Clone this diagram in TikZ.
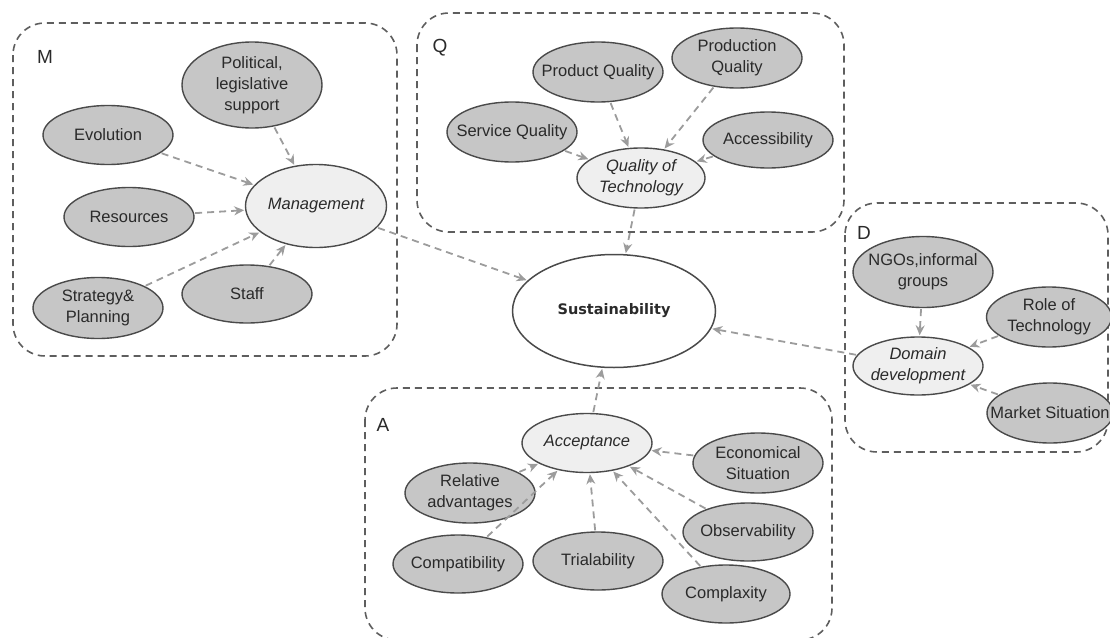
\documentclass[tikz,border=0pt]{standalone}
\usepackage{fontspec}
\setmainfont{Liberation Sans}
\newfontfamily\sustfont{DejaVu Sans}
\usetikzlibrary{shapes.geometric,arrows.meta}
\definecolor{outf}{HTML}{C6C6C6}
\definecolor{inf}{HTML}{EFEFEF}
\definecolor{bordc}{HTML}{4A4A4A}
\definecolor{arrc}{HTML}{9C9C9C}
\definecolor{boxc}{HTML}{5E5E5E}
\definecolor{txtc}{HTML}{2A2A2A}
\newcommand\ftxt{\fontsize{16.5}{21}\selectfont}
\newcommand\flbl{\fontsize{19}{22}\selectfont}
\newcommand\T[1]{\makebox[0pt]{#1}}
\tikzset{
  grp/.style={draw=boxc, line width=1.6pt, dash pattern=on 7pt off 5pt, rounded corners=32pt},
  outer/.style={ellipse, draw=bordc, line width=1.4pt, fill=outf, inner sep=0pt, align=center, font=\ftxt, text=txtc, minimum width=130pt, minimum height=59pt},
  innerell/.style={outer, fill=inf, font=\ftxt\itshape},
  arr/.style={draw=arrc, line width=1.8pt, dash pattern=on 7pt off 5pt, -{Stealth[length=10pt,width=9pt]}, shorten >=1pt, shorten <=1pt},
  lbl/.style={font=\flbl, inner sep=0pt, text=txtc}
}
\begin{document}
\begin{tikzpicture}[x=1pt,y=-1pt]
\useasboundingbox (0,0) rectangle (1110,637);
% group boxes
\draw[grp] (13,23) rectangle (397,356);
\draw[grp] (417,13) rectangle (844,232);
\draw[grp] (845,203) rectangle (1108,452);
\draw[grp] (365,388) rectangle (832,640);
\node[lbl] (lM) at (45,57) {M};
\node[lbl] (lQ) at (440,48) {Q};
\node[lbl] (lD) at (864,233) {D};
\node[lbl] (lA) at (383,425) {A};
% M group
\node[outer, minimum width=140pt, minimum height=86pt] (pol) at (252,85) {\T{Political,}\\\T{legislative}\\\T{support}};
\node[outer] (evo) at (108,135) {\T{Evolution}};
\node[outer] (res) at (129,217) {\T{Resources}};
\node[innerell, minimum width=141pt, minimum height=83pt] (man) at (316,206) {\T{Management}};
\node[outer, minimum height=61pt] (str) at (98,308) {\T{Strategy\&}\\\T{Planning}};
\node[outer, minimum height=58pt] (sta) at (247,294) {\T{Staff}};
% Q group
\node[outer, minimum height=60pt] (prq) at (598,72) {\T{Product Quality}};
\node[outer, minimum height=60pt] (pnq) at (737,58) {\T{Production}\\\T{Quality}};
\node[outer, minimum height=60pt] (svq) at (512,132) {\T{Service Quality}};
\node[outer, minimum height=56pt] (acc) at (768,140) {\T{Accessibility}};
\node[innerell, minimum width=128pt, minimum height=60pt] (qot) at (641,178) {\T{Quality of}\\\T{Technology}};
% Sustainability
\node[ellipse, draw=bordc, line width=1.5pt, fill=white, minimum width=203pt, minimum height=113pt, inner sep=0pt, font=\sustfont\bfseries\fontsize{14.5}{18}\selectfont, text=txtc] (sus) at (614,311) {\T{Sustainability}};
% D group
\node[outer, minimum width=140pt, minimum height=71pt] (ngo) at (923,272) {\T{NGOs,informal}\\\T{groups}};
\node[outer, minimum width=125pt, minimum height=60pt] (rot) at (1049,317) {\T{Role of}\\\T{Technology}};
\node[innerell, minimum width=130pt, minimum height=58pt] (dom) at (918,366) {\T{Domain}\\\T{development}};
\node[outer, minimum width=126pt, minimum height=60pt] (mkt) at (1050,413) {\T{Market Situation}};
% A group
\node[innerell] (acp) at (587,443) {\T{Acceptance}};
\node[outer, minimum height=60pt] (eco) at (758,463) {\T{Economical}\\\T{Situation}};
\node[outer, minimum height=60pt] (rel) at (470,493) {\T{Relative}\\\T{advantages}};
\node[outer, minimum height=58pt] (obs) at (748,532) {\T{Observability}};
\node[outer, minimum height=58pt] (cpt) at (458,564) {\T{Compatibility}};
\node[outer, minimum height=58pt] (tri) at (598,561) {\T{Trialability}};
\node[outer, minimum width=128pt, minimum height=58pt] (cpx) at (726,594) {\T{Complaxity}};
% arrows
\draw[arr] (pol) -- (man);
\draw[arr] (evo) -- (man);
\draw[arr] (res) -- (man);
\draw[arr] (str) -- (man);
\draw[arr] (sta) -- (man);
\draw[arr] (man) -- (sus);
\draw[arr] (prq) -- (qot);
\draw[arr] (pnq) -- (qot);
\draw[arr] (svq) -- (qot);
\draw[arr] (acc) -- (qot);
\draw[arr] (qot) -- (sus);
\draw[arr] (ngo) -- (dom);
\draw[arr] (rot) -- (dom);
\draw[arr] (mkt) -- (dom);
\draw[arr] (dom) -- (sus);
\draw[arr] (eco) -- (acp);
\draw[arr] (rel) -- (acp);
\draw[arr] (cpt) -- (acp);
\draw[arr] (tri) -- (acp);
\draw[arr] (obs) -- (acp);
\draw[arr] (cpx) -- (acp);
\draw[arr] (acp) -- (sus);
\end{tikzpicture}
\end{document}
